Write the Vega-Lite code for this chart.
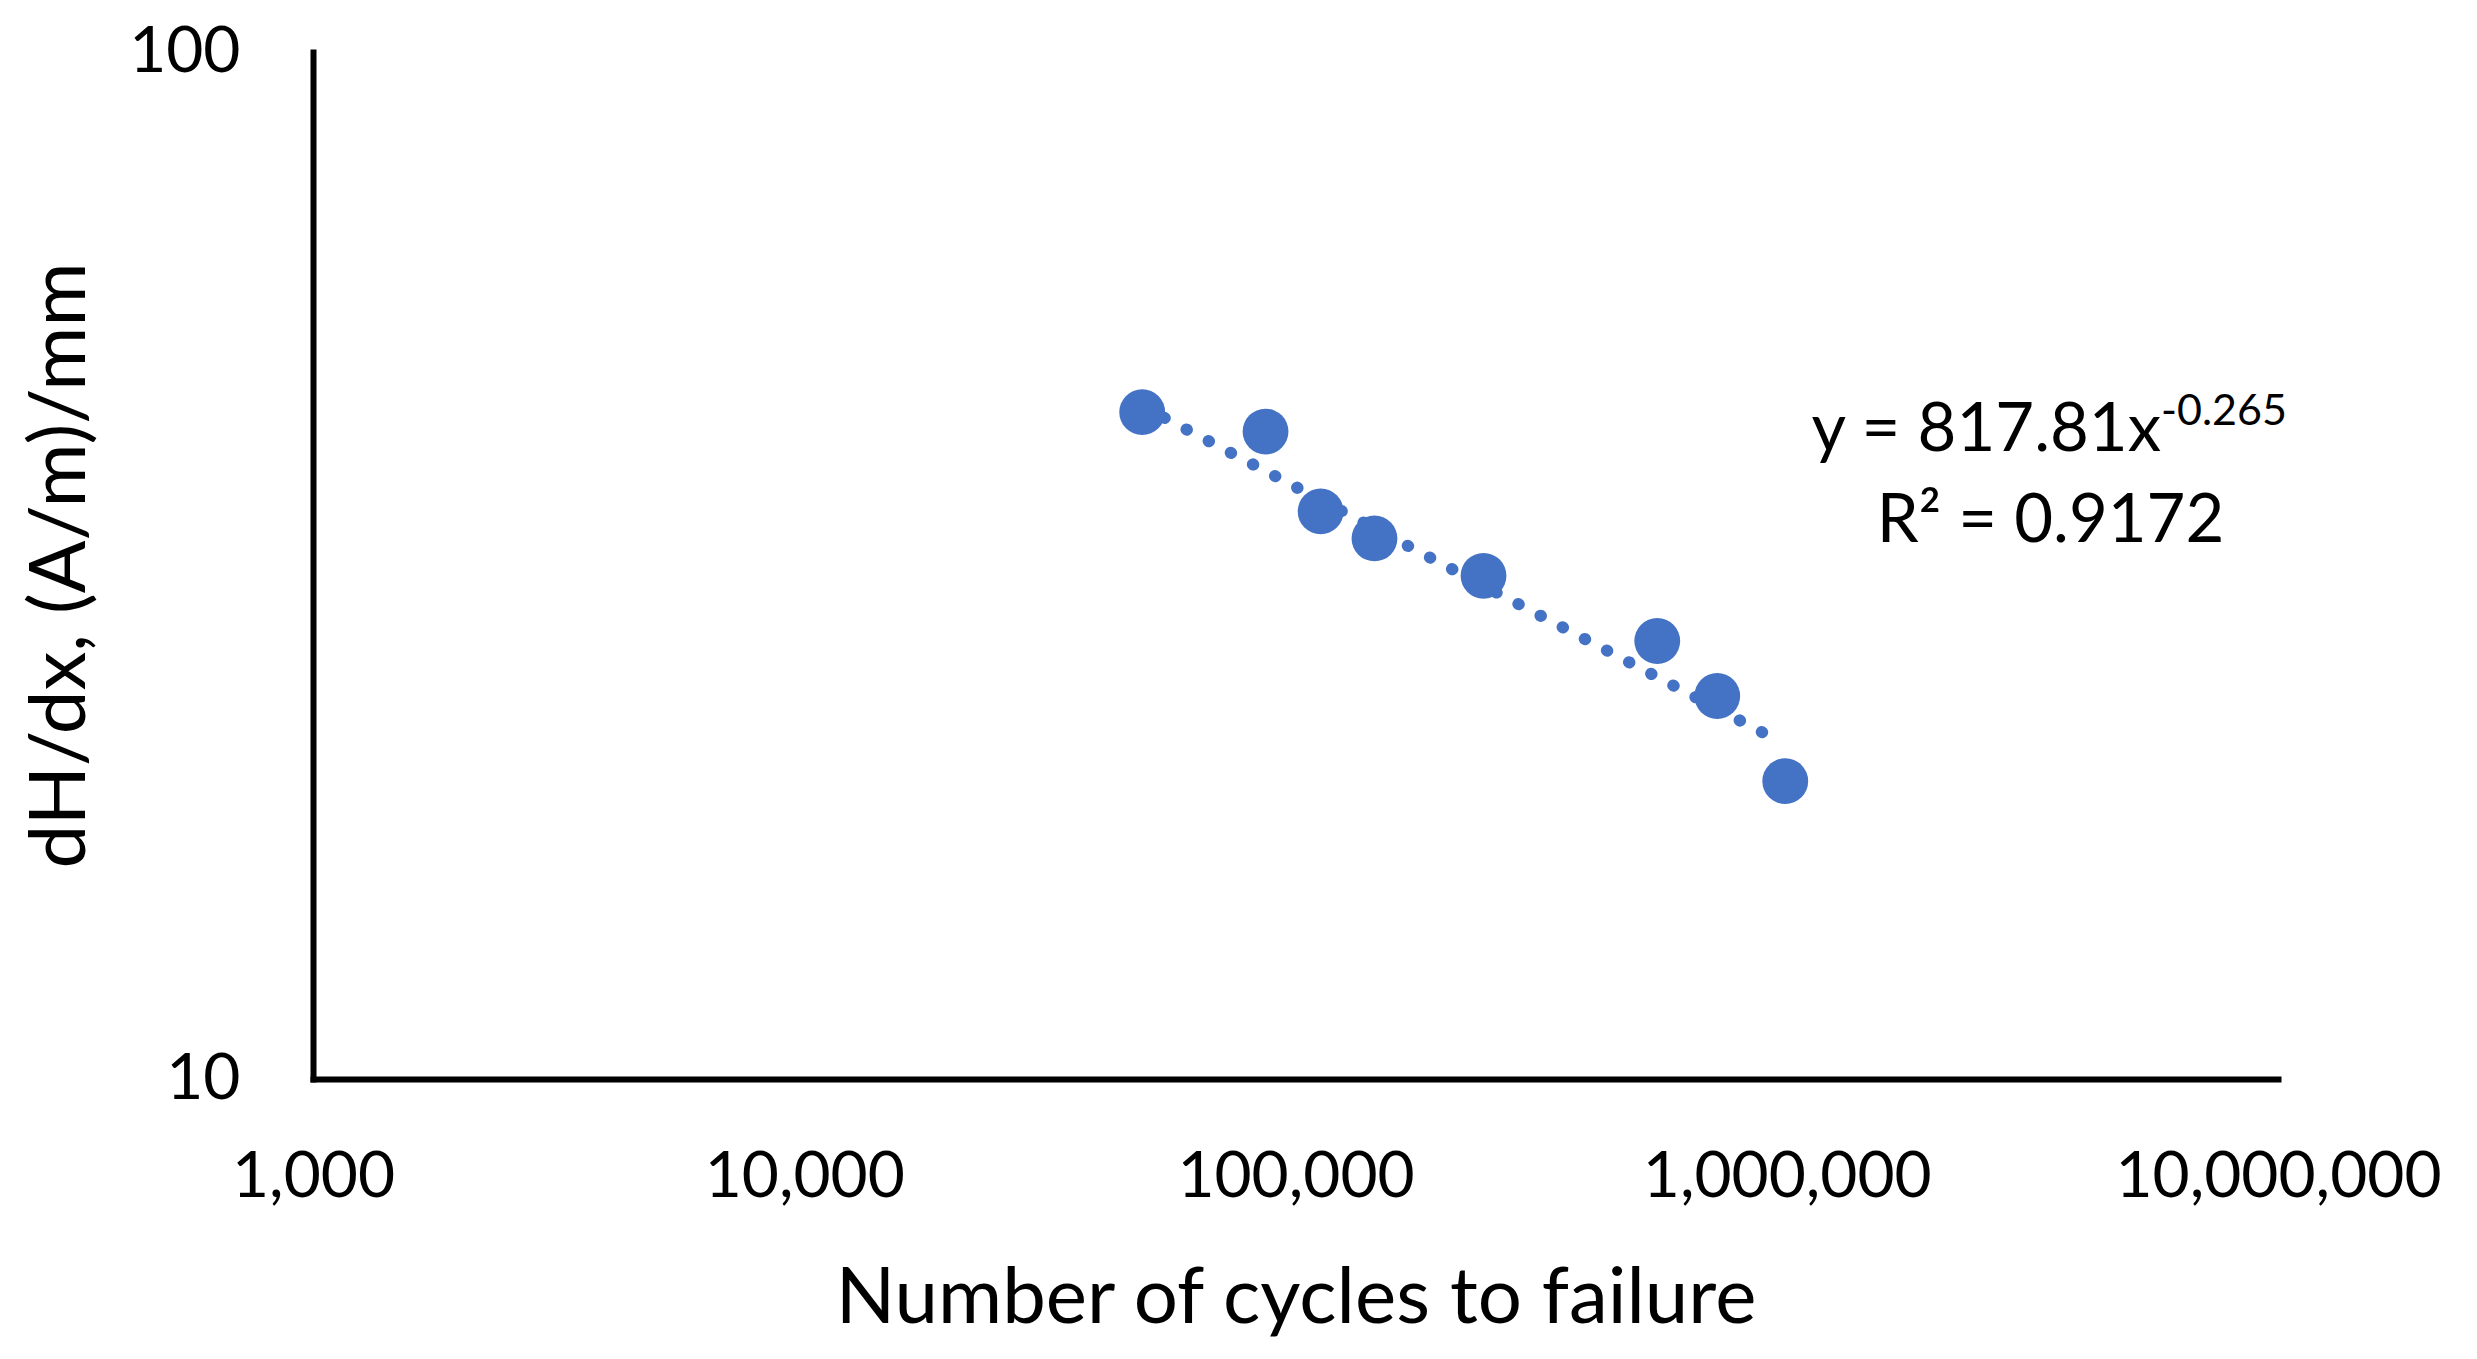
{
  "$schema": "https://vega.github.io/schema/vega-lite/v6.json",
  "autosize": {"type": "none"},
  "width": 1965,
  "height": 1027,
  "padding": {"left": 313, "top": 52, "right": 199, "bottom": 280},
  "background": "white",
  "config": {
    "view": {"stroke": null},
    "font": "Lato",
    "axis": {
      "grid": false,
      "ticks": false,
      "domainColor": "#000000",
      "domainWidth": 6,
      "domainCap": "square",
      "labelColor": "#000000",
      "labelFont": "Lato",
      "labelFontSize": 64,
      "labelLimit": 0,
      "titleColor": "#000000",
      "titleFont": "Lato",
      "titleFontSize": 78,
      "titleFontWeight": "normal",
      "titleLimit": 0
    }
  },
  "datasets": {
    "points": [
      {"cycles": 48750, "dHdx": 44.6},
      {"cycles": 86900, "dHdx": 42.7},
      {"cycles": 112500, "dHdx": 35.7},
      {"cycles": 144800, "dHdx": 33.6},
      {"cycles": 241400, "dHdx": 30.9},
      {"cycles": 545000, "dHdx": 26.7},
      {"cycles": 722000, "dHdx": 23.6},
      {"cycles": 993000, "dHdx": 19.5}
    ],
    "trend": [
      {"cycles": 48750, "dHdx": 45.2},
      {"cycles": 970000, "dHdx": 21.3}
    ],
    "notes": [
      {"cycles": 5780000, "dHdx": 42.8, "part": "main", "label": "y = 817.81x"},
      {"cycles": 5780000, "dHdx": 44.6, "part": "exp", "label": "-0.265"},
      {"cycles": 3443000, "dHdx": 34.9, "part": "r2", "label": "R² = 0.9172"}
    ]
  },
  "layer": [
    {
      "data": {"name": "trend"},
      "mark": {"type": "line", "color": "#4472C4", "strokeWidth": 12, "strokeDash": [0.5, 24.5], "strokeCap": "round"},
      "encoding": {
        "x": {
          "field": "cycles", "type": "quantitative",
          "scale": {"type": "log", "domain": [1000, 10000000]},
          "axis": {
            "title": "Number of cycles to failure",
            "values": [1000, 10000, 100000, 1000000, 10000000],
            "format": ",d",
            "labelPadding": 98,
            "labelBaseline": "middle",
            "labelFlush": false,
            "labelOverlap": false,
            "titleY": 220,
            "titleBaseline": "middle"
          }
        },
        "y": {
          "field": "dHdx", "type": "quantitative",
          "scale": {"type": "log", "domain": [10, 100]},
          "axis": {
            "title": "dH/dx, (A/m)/mm",
            "values": [10, 100],
            "format": "d",
            "labelPadding": 73,
            "labelBaseline": "middle",
            "labelFlush": false,
            "labelOverlap": false,
            "titleX": -252,
            "titleY": 513,
            "titleBaseline": "middle",
            "titleAlign": "center",
            "titleAngle": -90
          }
        }
      }
    },
    {
      "data": {"name": "points"},
      "mark": {"type": "circle", "size": 2100, "opacity": 1, "color": "#4472C4"},
      "encoding": {
        "x": {"field": "cycles", "type": "quantitative", "scale": {"type": "log", "domain": [1000, 10000000]}},
        "y": {"field": "dHdx", "type": "quantitative", "scale": {"type": "log", "domain": [10, 100]}}
      }
    },
    {
      "data": {"name": "notes"},
      "transform": [{"filter": "datum.part === 'main'"}],
      "mark": {"type": "text", "align": "right", "baseline": "middle", "fontSize": 67, "font": "Lato", "color": "#000000"},
      "encoding": {
        "x": {"field": "cycles", "type": "quantitative", "scale": {"type": "log", "domain": [1000, 10000000]}},
        "y": {"field": "dHdx", "type": "quantitative", "scale": {"type": "log", "domain": [10, 100]}},
        "text": {"field": "label"}
      }
    },
    {
      "data": {"name": "notes"},
      "transform": [{"filter": "datum.part === 'exp'"}],
      "mark": {"type": "text", "align": "left", "baseline": "middle", "fontSize": 43, "font": "Lato", "color": "#000000"},
      "encoding": {
        "x": {"field": "cycles", "type": "quantitative", "scale": {"type": "log", "domain": [1000, 10000000]}},
        "y": {"field": "dHdx", "type": "quantitative", "scale": {"type": "log", "domain": [10, 100]}},
        "text": {"field": "label"}
      }
    },
    {
      "data": {"name": "notes"},
      "transform": [{"filter": "datum.part === 'r2'"}],
      "mark": {"type": "text", "align": "center", "baseline": "middle", "fontSize": 67, "font": "Lato", "color": "#000000"},
      "encoding": {
        "x": {"field": "cycles", "type": "quantitative", "scale": {"type": "log", "domain": [1000, 10000000]}},
        "y": {"field": "dHdx", "type": "quantitative", "scale": {"type": "log", "domain": [10, 100]}},
        "text": {"field": "label"}
      }
    }
  ]
}
